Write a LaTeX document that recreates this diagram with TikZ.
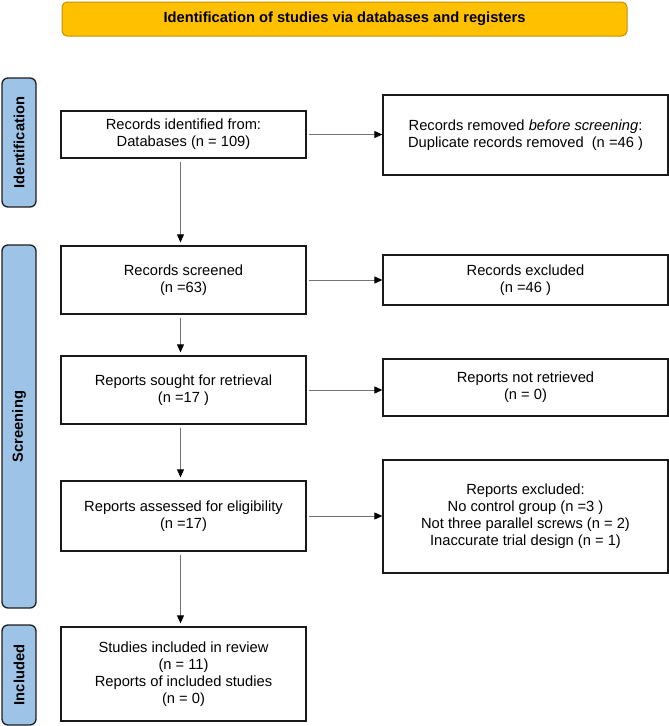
\documentclass[tikz,border=0pt]{standalone}
\usepackage{fontspec}
\setmainfont{Liberation Sans}
\usetikzlibrary{arrows.meta,shapes,positioning}
\definecolor{bannerfill}{HTML}{FFC000}
\definecolor{bannerline}{HTML}{C49400}
\definecolor{phasefill}{HTML}{9DC3E6}
\definecolor{phaseline}{HTML}{1E1E1E}
\tikzset{>={Triangle[length=8pt,width=7pt,color=black]}}
\tikzset{
  txt/.style={font=\fontsize{14.7}{17}\selectfont, align=center, inner sep=0pt},
  recbox/.style={txt, draw=black!90, line width=1.3pt, minimum width=245, fill=white},
  exbox/.style={txt, draw=black!90, line width=1.3pt, minimum width=285, fill=white},
  phase/.style={txt, font=\fontsize{14.7}{17}\selectfont\bfseries, draw=phaseline, line width=1.3pt,
    fill=phasefill, rounded corners=6pt, rotate=90, minimum height=34},
  flow/.style={->, draw=black!55, line width=0.9pt}
}

\begin{document}
\begin{tikzpicture}[x=1pt,y=-1pt]
      \useasboundingbox (0,0) rectangle (669,726);
      % banner on top
      \node[txt, font=\fontsize{14.7}{17}\selectfont\bfseries, fill=bannerfill, draw=bannerline, line width=1pt,
        rounded corners=5pt, minimum width=565, minimum height=34] (banner) at (344.5,19)
        {Identification of studies via databases and registers};
      % phases on the left
      \node[phase, minimum width=129] (ident) at (19,142.5) {Identification};
      \node[phase, minimum width=363] (screen) at (19,426.5) {Screening};
      \node[phase, minimum width=100] (incl) at (19,675) {Included};
      % main column
      \node[recbox, minimum height=47] (ident1) at (183.5,134.5) {Records identified from:\\Databases (n = 109)};
      \node[recbox, minimum height=68] (screened) at (183.5,280) {Records screened\\(n =63)};
      \node[recbox, minimum height=68] (sought) at (183.5,390) {Reports sought for retrieval\\(n =17 )};
      \node[recbox, minimum height=70] (assessed) at (183.5,516) {Reports assessed for eligibility\\(n =17)};
      \node[recbox, minimum height=94] (included) at (183.5,674) {Studies included in review\\(n = 11)\\Reports of included studies\\(n = 0)};
      % side column
      \node[exbox, minimum height=80] (removed) at (525.5,135) {Records removed \textit{before screening}:\\Duplicate records removed \ (n =46 )};
      \node[exbox, minimum height=50] (excl) at (525.5,280) {Records excluded\\(n =46 )};
      \node[exbox, minimum height=57] (notret) at (525.5,387.5) {Reports not retrieved\\(n = 0)};
      \node[exbox, minimum height=113] (repexcl) at (525.5,516.5) {Reports excluded:\\No control group (n =3 )\\Not three parallel screws (n = 2)\\Inaccurate trial design (n = 1)};
      % arrows
      \draw[flow, shorten <=3pt, shorten >=3pt] ([xshift=-3pt]ident1.south) -- ([xshift=-3pt]screened.north);
      \draw[flow, shorten <=3pt, shorten >=3pt] ([xshift=-3pt]screened.south) -- ([xshift=-3pt]sought.north);
      \draw[flow, shorten <=3pt, shorten >=3pt] ([xshift=-3pt]sought.south) -- ([xshift=-3pt]assessed.north);
      \draw[flow, shorten <=3pt, shorten >=3pt] ([xshift=-3pt]assessed.south) -- ([xshift=-3pt]included.north);
      \draw[flow, shorten <=2pt] (ident1.east) -- (ident1.east -| removed.west);
      \draw[flow, shorten <=2pt] (screened.east) -- (screened.east -| excl.west);
      \draw[flow, shorten <=2pt] (sought.east) -- (sought.east -| notret.west);
      \draw[flow, shorten <=2pt] (assessed.east) -- (assessed.east -| repexcl.west);
    \end{tikzpicture}
\end{document}
